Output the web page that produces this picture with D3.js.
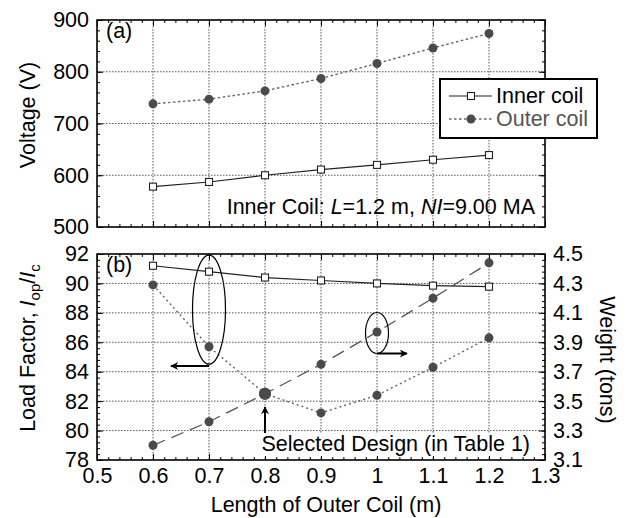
<!DOCTYPE html>
<html><head><meta charset="utf-8">
<script src="https://cdn.jsdelivr.net/npm/d3@7"></script>
<style>
body{margin:0;background:#fff;}
svg{display:block;font-family:"Liberation Sans",Arial,Helvetica,sans-serif;}
</style></head>
<body><svg id="c" width="630" height="518"></svg>
<script>
// ---- data ----
const xVals = [0.6, 0.7, 0.8, 0.9, 1.0, 1.1, 1.2];
const voltInner = [578, 587, 600, 611, 620, 630, 639];
const voltOuter = [738, 747, 763, 787, 816, 846, 874];
const lfInner = [91.2, 90.8, 90.4, 90.2, 90.0, 89.85, 89.78];
const lfOuter = [89.9, 85.7, 82.5, 81.2, 82.4, 84.3, 86.3];
const weightTons = [3.20, 3.36, 3.55, 3.75, 3.97, 4.20, 4.44];
const selectedIndex = 2;
const xTicks = [0.5, 0.6, 0.7, 0.8, 0.9, 1.0, 1.1, 1.2, 1.3];
const xTickLabels = ["0.5", "0.6", "0.7", "0.8", "0.9", "1", "1.1", "1.2", "1.3"];
const voltTicks = [500, 600, 700, 800, 900];
const lfTicks = [78, 80, 82, 84, 86, 88, 90, 92];
const wTicks = [3.1, 3.3, 3.5, 3.7, 3.9, 4.1, 4.3, 4.5];
const legendLabels = ["Inner coil", "Outer coil"];

// ---- layout ----
const svg = d3.select("#c");
const L = 97, R = 545;
const A = {top: 20, bottom: 227};
const B = {top: 254, bottom: 460};
const FS = 21.5;

const x = d3.scaleLinear().domain([0.5, 1.3]).range([L, R]);
const yV = d3.scaleLinear().domain([500, 900]).range([A.bottom, A.top]);
const yLF = d3.scaleLinear().domain([78, 92]).range([B.bottom, B.top]);
const yW = d3.scaleLinear().domain([3.1, 4.5]).range([B.bottom, B.top]);

const minor = (a, b, step) => d3.range(Math.round((b - a) / step) + 1).map(i => +(a + i * step).toFixed(4));
const xMinor = minor(0.5, 1.3, 0.02);

function grid(g, xs, ys, ysc, top, bottom) {
  const gg = g.append("g").attr("stroke", "#555").attr("stroke-width", 1).attr("stroke-dasharray", "1.5,1.5");
  xs.forEach(v => gg.append("line").attr("x1", x(v)).attr("x2", x(v)).attr("y1", top).attr("y2", bottom));
  ys.forEach(v => gg.append("line").attr("x1", L).attr("x2", R).attr("y1", ysc(v)).attr("y2", ysc(v)));
}

function ticksAxis(g, axisFn, scale, vals, size, tx, ty) {
  g.append("g").attr("transform", `translate(${tx},${ty})`)
    .call(axisFn(scale).tickValues(vals).tickSize(size).tickFormat(""))
    .call(s => s.select(".domain").remove())
    .call(s => s.selectAll("line").attr("stroke", "#000").attr("stroke-width", 1));
}

// ---- panel (a) ----
const ga = svg.append("g");
grid(ga, xTicks.slice(1, -1), voltTicks.slice(1, -1), yV, A.top, A.bottom);
const vMinor = minor(500, 900, 20);
ticksAxis(ga, d3.axisBottom, x, xMinor, -3, 0, A.bottom);
ticksAxis(ga, d3.axisBottom, x, xTicks, -6, 0, A.bottom);
ticksAxis(ga, d3.axisTop, x, xMinor, -3, 0, A.top);
ticksAxis(ga, d3.axisTop, x, xTicks, -6, 0, A.top);
ticksAxis(ga, d3.axisLeft, yV, vMinor, -3, L, 0);
ticksAxis(ga, d3.axisLeft, yV, voltTicks, -6, L, 0);
ticksAxis(ga, d3.axisRight, yV, vMinor, -3, R, 0);
ticksAxis(ga, d3.axisRight, yV, voltTicks, -6, R, 0);
ga.append("g").attr("transform", `translate(${L},0)`)
  .call(d3.axisLeft(yV).tickValues(voltTicks).tickSize(0).tickPadding(8))
  .call(s => s.select(".domain").remove())
  .call(s => s.selectAll("text").attr("font-size", FS).attr("font-family", "Liberation Sans, Arial, sans-serif").attr("fill", "#000"));

const lineA = (arr, ys) => d3.line().x((d, i) => x(xVals[i])).y(d => ys(d))(arr);
ga.append("path").attr("d", lineA(voltInner, yV)).attr("fill", "none").attr("stroke", "#222").attr("stroke-width", 1.2);
ga.append("path").attr("d", lineA(voltOuter, yV)).attr("fill", "none").attr("stroke", "#666").attr("stroke-width", 1.4).attr("stroke-dasharray", "2.5,2.5");
voltInner.forEach((v, i) => ga.append("rect").attr("x", x(xVals[i]) - 3.5).attr("y", yV(v) - 3.5).attr("width", 7).attr("height", 7).attr("fill", "#fff").attr("stroke", "#222").attr("stroke-width", 1.1));
voltOuter.forEach((v, i) => ga.append("circle").attr("cx", x(xVals[i])).attr("cy", yV(v)).attr("r", 4.5).attr("fill", "#4a4a4a"));

ga.append("rect").attr("x", L).attr("y", A.top).attr("width", R - L).attr("height", A.bottom - A.top).attr("fill", "none").attr("stroke", "#000").attr("stroke-width", 1.6);
ga.append("text").attr("x", 106).attr("y", 38).attr("font-size", FS).text("(a)");

// inner coil note
const note = ga.append("text").attr("x", 535).attr("y", 214).attr("text-anchor", "end").attr("font-size", FS);
note.append("tspan").text("Inner Coil: ");
note.append("tspan").attr("font-style", "italic").text("L");
note.append("tspan").text("=1.2 m, ");
note.append("tspan").attr("font-style", "italic").text("NI");
note.append("tspan").text("=9.00 MA");

// legend
const lg = ga.append("g");
lg.append("rect").attr("x", 440).attr("y", 79).attr("width", 157).attr("height", 59).attr("fill", "#fff").attr("stroke", "#000").attr("stroke-width", 2);
lg.append("line").attr("x1", 449).attr("x2", 492).attr("y1", 96).attr("y2", 96).attr("stroke", "#222").attr("stroke-width", 1.2);
lg.append("rect").attr("x", 467.5).attr("y", 92.5).attr("width", 7).attr("height", 7).attr("fill", "#fff").attr("stroke", "#222").attr("stroke-width", 1.1);
lg.append("text").attr("x", 496).attr("y", 103).attr("font-size", FS).text(legendLabels[0]);
lg.append("line").attr("x1", 449).attr("x2", 492).attr("y1", 119).attr("y2", 119).attr("stroke", "#666").attr("stroke-width", 1.4).attr("stroke-dasharray", "2.5,2.5");
lg.append("circle").attr("cx", 471).attr("cy", 119).attr("r", 4.5).attr("fill", "#4a4a4a");
lg.append("text").attr("x", 496).attr("y", 126).attr("font-size", FS).attr("fill", "#555").text(legendLabels[1]);

// y label (a)
svg.append("text").attr("transform", "translate(35,115) rotate(-90)").attr("text-anchor", "middle").attr("font-size", FS).text("Voltage  (V)");

// ---- panel (b) ----
const gb = svg.append("g");
grid(gb, xTicks.slice(1, -1), lfTicks.slice(1, -1), yLF, B.top, B.bottom);
const lfMinor = minor(78, 92, 0.4);
const wMinor = minor(3.1, 4.5, 0.04);
ticksAxis(gb, d3.axisBottom, x, xMinor, -3, 0, B.bottom);
ticksAxis(gb, d3.axisBottom, x, xTicks, -6, 0, B.bottom);
ticksAxis(gb, d3.axisTop, x, xMinor, -3, 0, B.top);
ticksAxis(gb, d3.axisTop, x, xTicks, -6, 0, B.top);
ticksAxis(gb, d3.axisLeft, yLF, lfMinor, -3, L, 0);
ticksAxis(gb, d3.axisLeft, yLF, lfTicks, -6, L, 0);
ticksAxis(gb, d3.axisRight, yW, wMinor, -3, R, 0);
ticksAxis(gb, d3.axisRight, yW, wTicks, -6, R, 0);

gb.append("g").attr("transform", `translate(${L},0)`)
  .call(d3.axisLeft(yLF).tickValues(lfTicks).tickSize(0).tickPadding(8))
  .call(s => s.select(".domain").remove())
  .call(s => s.selectAll("text").attr("font-size", FS).attr("font-family", "Liberation Sans, Arial, sans-serif").attr("fill", "#000"));
gb.append("g").attr("transform", `translate(${R},0)`)
  .call(d3.axisRight(yW).tickValues(wTicks).tickSize(0).tickPadding(8).tickFormat(d3.format(".1f")))
  .call(s => s.select(".domain").remove())
  .call(s => s.selectAll("text").attr("font-size", FS).attr("font-family", "Liberation Sans, Arial, sans-serif").attr("fill", "#000"));
gb.append("g").attr("transform", `translate(0,${B.bottom})`)
  .call(d3.axisBottom(x).tickValues(xTicks).tickSize(0).tickPadding(8).tickFormat((d, i) => xTickLabels[i]))
  .call(s => s.select(".domain").remove())
  .call(s => s.selectAll("text").attr("font-size", FS).attr("font-family", "Liberation Sans, Arial, sans-serif").attr("fill", "#000"));

gb.append("path").attr("d", lineA(weightTons, yW)).attr("fill", "none").attr("stroke", "#555").attr("stroke-width", 1.3).attr("stroke-dasharray", "13,7");
gb.append("path").attr("d", lineA(lfOuter, yLF)).attr("fill", "none").attr("stroke", "#666").attr("stroke-width", 1.4).attr("stroke-dasharray", "2,3");
gb.append("path").attr("d", lineA(lfInner, yLF)).attr("fill", "none").attr("stroke", "#222").attr("stroke-width", 1.2);
weightTons.forEach((v, i) => gb.append("circle").attr("cx", x(xVals[i])).attr("cy", yW(v)).attr("r", i === selectedIndex ? 6 : 4.5).attr("fill", "#4a4a4a"));
lfOuter.forEach((v, i) => gb.append("circle").attr("cx", x(xVals[i])).attr("cy", yLF(v)).attr("r", i === selectedIndex ? 6 : 4.5).attr("fill", "#4a4a4a"));
lfInner.forEach((v, i) => gb.append("rect").attr("x", x(xVals[i]) - 3.5).attr("y", yLF(v) - 3.5).attr("width", 7).attr("height", 7).attr("fill", "#fff").attr("stroke", "#222").attr("stroke-width", 1.1));

gb.append("rect").attr("x", L).attr("y", B.top).attr("width", R - L).attr("height", B.bottom - B.top).attr("fill", "none").attr("stroke", "#000").attr("stroke-width", 1.6);
gb.append("text").attr("x", 106).attr("y", 272).attr("font-size", FS).text("(b)");

// annotations
svg.append("defs").append("marker").attr("id", "ah").attr("viewBox", "0 0 10 10").attr("refX", 9).attr("refY", 5)
  .attr("markerWidth", 10).attr("markerHeight", 8).attr("markerUnits", "userSpaceOnUse").attr("orient", "auto")
  .append("path").attr("d", "M0,0 L10,5 L0,10 L3,5 Z").attr("fill", "#000");
// ellipse around 0.7 (load factor)
gb.append("ellipse").attr("cx", x(0.7)).attr("cy", (yLF(lfInner[1]) + yLF(lfOuter[1])) / 2 + 0.5).attr("rx", 16.5).attr("ry", 54.5).attr("fill", "none").attr("stroke", "#000").attr("stroke-width", 1.2);
gb.append("line").attr("x1", x(0.7)).attr("y1", 366).attr("x2", 171).attr("y2", 366).attr("stroke", "#000").attr("stroke-width", 2).attr("marker-end", "url(#ah)");
// ellipse around 1.0 weight
gb.append("ellipse").attr("cx", x(1.0)).attr("cy", yW(weightTons[4]) + 1).attr("rx", 11.5).attr("ry", 20.5).attr("fill", "none").attr("stroke", "#000").attr("stroke-width", 1.2);
gb.append("line").attr("x1", x(1.0)).attr("y1", 353.5).attr("x2", 407).attr("y2", 353.5).attr("stroke", "#000").attr("stroke-width", 2).attr("marker-end", "url(#ah)");
// selected design arrow
gb.append("line").attr("x1", x(0.8)).attr("y1", 433).attr("x2", x(0.8)).attr("y2", 407).attr("stroke", "#000").attr("stroke-width", 2).attr("marker-end", "url(#ah)");
gb.append("rect").attr("x", 246).attr("y", 434).attr("width", 287).attr("height", 22).attr("fill", "#fff");
gb.append("text").attr("x", 530).attr("y", 451).attr("text-anchor", "end").attr("font-size", FS).text("Selected Design (in Table 1)");

// axis labels
const ylb = svg.append("text").attr("transform", "translate(35,348) rotate(-90)").attr("text-anchor", "middle").attr("font-size", FS);
ylb.append("tspan").text("Load Factor, ");
ylb.append("tspan").attr("font-style", "italic").text("I");
ylb.append("tspan").attr("font-size", FS * 0.7).attr("dy", 5).text("op");
ylb.append("tspan").attr("dy", -5).text("/");
ylb.append("tspan").attr("font-style", "italic").text("I");
ylb.append("tspan").attr("font-size", FS * 0.7).attr("dy", 5).text("c");

svg.append("text").attr("transform", "translate(600,360) rotate(90)").attr("text-anchor", "middle").attr("font-size", FS).text("Weight (tons)");
svg.append("text").attr("x", (L + R) / 2 + 5).attr("y", 512).attr("text-anchor", "middle").attr("font-size", FS).text("Length of Outer Coil (m)");
</script></body></html>
